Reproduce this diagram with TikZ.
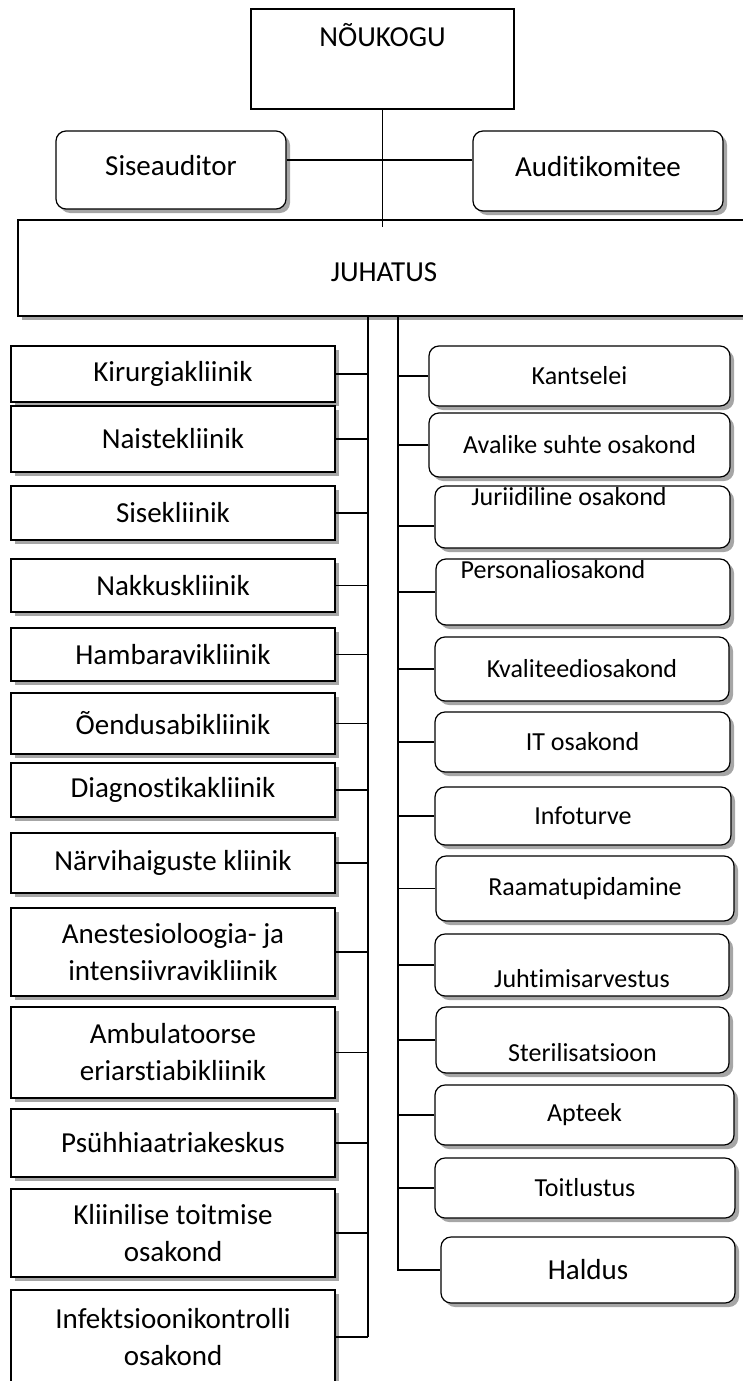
\documentclass[tikz,border=0pt]{standalone}
\usepackage{fontspec}
\setmainfont{Carlito}[Ligatures=NoCommon]
\usetikzlibrary{shadows}
\newcommand{\bigfont}{\fontsize{29}{37}\selectfont}
\newcommand{\smallfont}{\fontsize{26}{32}\selectfont}

\begin{document}
\begin{tikzpicture}[x=1pt,y=-1pt,
	box/.style={draw,fill=white,line width=1.2pt,inner sep=0pt,align=center,
		drop shadow={shadow xshift=4pt,shadow yshift=-4pt,fill=black!35,opacity=1}},
	lbox/.style={box,minimum width=324pt,font=\bigfont},
	rbox/.style={box,rounded corners=10pt,font=\smallfont},
	txt/.style={font=\smallfont,inner sep=0pt},
	link/.style={line width=1.2pt}]
	\useasboundingbox (0,0) rectangle (742,1381);
		% top of the chart
		\node[draw,line width=1.2pt,minimum width=263pt,minimum height=100pt,label={[font=\bigfont,inner sep=0pt,yshift=24pt]center:NÕUKOGU}] (nou) at (382.5,59) {};
		\node[rbox,font=\bigfont,text depth=10pt,minimum width=230pt,minimum height=78pt] (sise) at (171,170) {Siseauditor};
		\node[rbox,font=\bigfont,text depth=10pt,minimum width=250pt,minimum height=80pt] (audit) at (598,171) {Auditikomitee};
		\node[box,font=\bigfont,text height=27pt,minimum width=732pt,minimum height=96pt] (juh) at (384,268) {JUHATUS};
		% clinics
		\node[lbox,minimum height=56pt] (kir) at (173,374) {Kirurgiakliinik};
		\node[lbox,minimum height=66pt] (nai) at (173,439) {Naistekliinik};
		\node[lbox,minimum height=54pt] (sis) at (173,513) {Sisekliinik};
		\node[lbox,minimum height=53pt] (nak) at (173,585.5) {Nakkuskliinik};
		\node[lbox,minimum height=53pt] (ham) at (173,654.5) {Hambaravikliinik};
		\node[lbox,minimum height=61pt] (oen) at (173,723.5) {Õendusabikliinik};
		\node[lbox,minimum height=54pt] (dia) at (173,790) {Diagnostikakliinik};
		\node[lbox,minimum height=60pt] (nar) at (173,863) {Närvihaiguste kliinik};
		\node[lbox,minimum height=88pt] (ane) at (173,952) {Anestesioloogia- ja\\intensiivravikliinik};
		\node[lbox,minimum height=91pt] (amb) at (173,1052.5) {Ambulatoorse\\eriarstiabikliinik};
		\node[lbox,minimum height=68pt] (psu) at (173,1143) {Psühhiaatriakeskus};
		\node[lbox,minimum height=88pt] (kli) at (173,1233) {Kliinilise toitmise\\osakond};
		\node[lbox,minimum height=94pt] (inf) at (173,1337) {Infektsioonikontrolli\\osakond};
		% departments
		\node[rbox,minimum width=301pt,minimum height=60pt] (kan) at (579.5,376) {Kantselei};
		\node[rbox,minimum width=301pt,minimum height=64pt] (ava) at (579.5,445) {Avalike suhte osakond};
		\node[rbox,minimum width=295pt,minimum height=62pt,label={[txt,xshift=-13.5pt,yshift=20pt]center:Juriidiline osakond}] (jur) at (582.5,517) {};
		\node[rbox,minimum width=294pt,minimum height=66pt,label={[txt,xshift=-30pt,yshift=22pt]center:Personaliosakond}] (per) at (583,592) {};
		\node[rbox,minimum width=294pt,minimum height=64pt] (kva) at (582,669) {Kvaliteediosakond};
		\node[rbox,minimum width=295pt,minimum height=60pt] (it) at (582.5,742) {IT osakond};
		\node[rbox,minimum width=296pt,minimum height=58pt] (info) at (583,816) {Infoturve};
		\node[rbox,minimum width=298pt,minimum height=65pt] (raa) at (585,888.5) {Raamatupidamine};
		\node[rbox,minimum width=294pt,minimum height=62pt,label={[txt,yshift=-14pt]center:Juhtimisarvestus}] (juht) at (582,965) {};
		\node[rbox,minimum width=293pt,minimum height=66pt,label={[txt,yshift=-13pt]center:Sterilisatsioon}] (ste) at (582.5,1040) {};
		\node[rbox,minimum width=299pt,minimum height=60pt] (apt) at (584.5,1115) {Apteek};
		\node[rbox,minimum width=300pt,minimum height=60pt] (toi) at (585,1188) {Toitlustus};
		\node[rbox,font=\bigfont,minimum width=294pt,minimum height=66pt] (hal) at (588,1270) {Haldus};
		% lines
		\coordinate (lbus) at ([xshift=-16pt]juh.south);
		\coordinate (rbus) at ([xshift=14pt]juh.south);
		\draw[line width=0.8pt] (nou.south) -- ([yshift=-8pt]nou.south |- juh.north);
		\draw[link] ([yshift=10pt]sise.east) -- ([yshift=10pt]sise.east -| audit.west);
		\draw[link] (lbus) -- (lbus |- inf.east) (rbus) -- (rbus |- hal.west) -- (hal.west);
		\draw[link] (kir.east) -- (kir.east -| lbus) (nai.east) -- (nai.east -| lbus) (sis.east) -- (sis.east -| lbus)
			(nak.east) -- (nak.east -| lbus) (ham.east) -- (ham.east -| lbus) (oen.east) -- (oen.east -| lbus)
			(dia.east) -- (dia.east -| lbus) (nar.east) -- (nar.east -| lbus) (ane.east) -- (ane.east -| lbus)
			(amb.east) -- (amb.east -| lbus) (psu.east) -- (psu.east -| lbus) (kli.east) -- (kli.east -| lbus)
			(inf.east) -- (inf.east -| lbus);
		\draw[link] (kan.west) -- (kan.west -| rbus) (ava.west) -- (ava.west -| rbus) ([yshift=-9pt]jur.west) -- ([yshift=-9pt]jur.west -| rbus)
			(per.west) -- (per.west -| rbus) (kva.west) -- (kva.west -| rbus) (it.west) -- (it.west -| rbus)
			(info.west) -- (info.west -| rbus) (raa.west) -- (raa.west -| rbus) (juht.west) -- (juht.west -| rbus)
			(ste.west) -- (ste.west -| rbus) (apt.west) -- (apt.west -| rbus) (toi.west) -- (toi.west -| rbus);
	\end{tikzpicture}
\end{document}
